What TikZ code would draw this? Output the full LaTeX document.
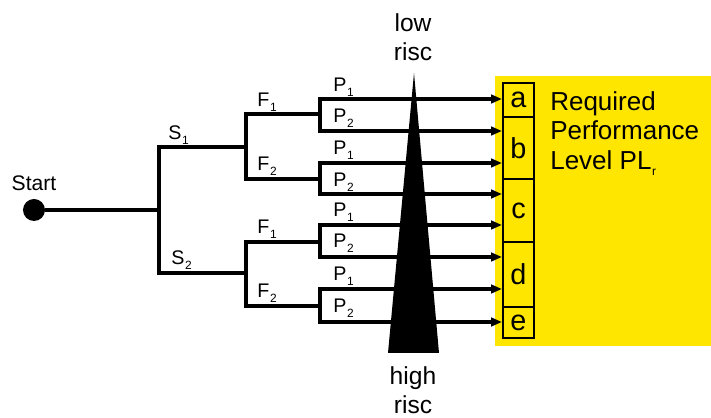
\documentclass[tikz,border=0pt]{standalone}
\usepackage{fontspec}
\setmainfont{Liberation Sans}
\usetikzlibrary{arrows.meta,positioning}
\definecolor{plyellow}{RGB}{255,230,0}
\newcommand{\lowsub}[1]{\kern0.5pt\raisebox{-0.45ex}{\fontsize{8.5}{9}\selectfont#1}}

\begin{document}
\begin{tikzpicture}[
	x=0.025cm, y=-0.025cm,
	branch/.style={line width=2.4pt},
	arrow/.style={branch, -{Triangle[length=0.27cm, width=0.21cm]}},
	lbl/.style={inner sep=0pt, anchor=base west, font=\fontsize{14}{16}\selectfont},
	plbox/.style={
		draw, line width=0.8pt, fill=plyellow, inner sep=0pt,
		minimum width=0.775cm, font=\fontsize{20.5}{22}\selectfont
	},
	risc/.style={align=center, inner sep=0pt, anchor=north, font=\fontsize{17.5}{21}\selectfont}
	]
	\useasboundingbox (0,0) rectangle (711,418);
	\fill[plyellow] (495,76) rectangle (711,346);
	% performance levels
	\node[plbox, minimum height=0.85cm] (a) at (518.5,100) {a};
	\node[plbox, minimum height=1.55cm] (b) at (518.5,148) {b};
	\node[plbox, minimum height=1.575cm] (c) at (518.5,210.5) {c};
	\node[plbox, minimum height=1.625cm] (d) at (518.5,274.5) {d};
	\node[plbox, minimum height=0.775cm] (e) at (518.5,322.5) {e};
	\node[anchor=north west, align=left, inner sep=0pt, font=\fontsize{18.5}{21}\selectfont] (plr) at (550,91) {Required\\Performance\\Level PL\lowsub{r}};
	% start and branch points
	\node[circle, fill, minimum size=0.55cm, inner sep=0pt] (start) at (34,210) {};
	\node[lbl, font=\fontsize{15}{17}\selectfont, above=0.2cm of start] (startlbl) {Start};
	\coordinate (sj) at (159,210);
	\coordinate (fj1) at (246,147);
	\coordinate (fj2) at (246,273);
	\coordinate (pj1) at (320,114);
	\coordinate (pj2) at (320,179);
	\coordinate (pj3) at (320,242);
	\coordinate (pj4) at (320,306);
	\coordinate (in1) at (502,99);
	\coordinate (in2) at (502,131);
	\coordinate (in3) at (502,163);
	\coordinate (in4) at (502,194);
	\coordinate (in5) at (502,225);
	\coordinate (in6) at (502,257);
	\coordinate (in7) at (502,289);
	\coordinate (in8) at (502,322);
	% tree
	\draw[branch] (start) -- (sj);
	\draw[branch] (fj1) -| (sj) |- (fj2);
	\draw[branch] (pj1) -| (fj1) |- (pj2);
	\draw[branch] (pj3) -| (fj2) |- (pj4);
	\draw[arrow] (pj1) |- (in1);
	\draw[arrow] (pj1) |- (in2);
	\draw[arrow] (pj2) |- (in3);
	\draw[arrow] (pj2) |- (in4);
	\draw[arrow] (pj3) |- (in5);
	\draw[arrow] (pj3) |- (in6);
	\draw[arrow] (pj4) |- (in7);
	\draw[arrow] (pj4) |- (in8);
	% labels
	\node[lbl] (s1) at (168,140) {S\lowsub{1}};
	\node[lbl] (s2) at (171,265) {S\lowsub{2}};
	\node[lbl] (f1a) at (257,107) {F\lowsub{1}};
	\node[lbl] (f2a) at (257,171) {F\lowsub{2}};
	\node[lbl] (f1b) at (257,234) {F\lowsub{1}};
	\node[lbl] (f2b) at (257,298) {F\lowsub{2}};
	\node[lbl] (p1a) at (333,92) {P\lowsub{1}};
	\node[lbl] (p2a) at (333,123) {P\lowsub{2}};
	\node[lbl] (p1b) at (333,155) {P\lowsub{1}};
	\node[lbl] (p2b) at (333,187) {P\lowsub{2}};
	\node[lbl] (p1c) at (333,217) {P\lowsub{1}};
	\node[lbl] (p2c) at (333,248) {P\lowsub{2}};
	\node[lbl] (p1d) at (333,281) {P\lowsub{1}};
	\node[lbl] (p2d) at (333,313) {P\lowsub{2}};
	% risc wedge
	\fill (414,73) -- (439,353) -- (388,353) -- cycle;
	\node[risc] (low) at (413,13) {low\\risc};
	\node[risc] (high) at (413,366) {high\\risc};
\end{tikzpicture}
\end{document}
